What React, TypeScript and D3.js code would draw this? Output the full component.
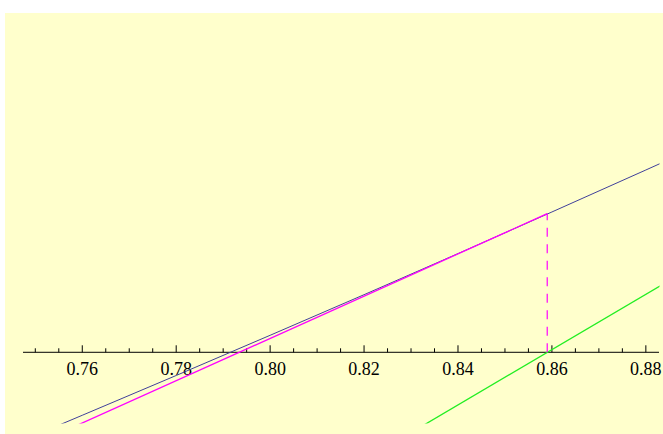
import React from "react";
import * as d3 from "d3";

// curve (x in data units, y in the same units)
const curveX = [0.755, 0.76, 0.78, 0.8, 0.82, 0.84, 0.86, 0.88, 0.885];
const curveY = [-0.01552, -0.01341, -0.00494, 0.00362, 0.01226, 0.02101, 0.02987, 0.03881, 0.04106];

// tangent line touching the curve at x0
const tangentX = [0.755, 0.859];
const tangentY = [-0.0173, 0.0295];

// green line through (x0, 0)
const greenX = [0.83, 0.885];
const greenY = [-0.0171, 0.0153];

const x0 = 0.859;

const majorTicks = [0.76, 0.78, 0.8, 0.82, 0.84, 0.86, 0.88];
const tickLabels = ["0.76", "0.78", "0.80", "0.82", "0.84", "0.86", "0.88"];
const minorTicks = [0.75, 0.755, 0.765, 0.77, 0.775, 0.785, 0.79, 0.795, 0.805, 0.81, 0.815, 0.825, 0.83, 0.835, 0.845, 0.85, 0.855, 0.865, 0.87, 0.875];

const W = 663;
const H = 434;

export default function App() {
  const x = d3.scaleLinear().domain([0.74738, 0.8828]).range([23, 659]);
  const y = d3.scaleLinear().domain([-0.01516, 0.07223]).range([423.5, 13]);

  const line = d3
    .line<number>()
    .x((d) => x(d))
    .y((d, i) => 0);

  const path = (xs: number[], ys: number[]) =>
    d3
      .line<number>()
      .x((d) => x(d))
      .y((d, i) => y(ys[i]))(xs) || "";

  const axisY = y(0);

  return (
    <svg
      width={W}
      height={H}
      style={{ position: "absolute", left: 0, top: 0 }}
      fontFamily="'Liberation Serif', 'Times New Roman', serif"
    >
      <defs>
        <clipPath id="plot">
          <rect x={23} y={13} width={636.5} height={410.5} />
        </clipPath>
      </defs>
      <rect x={5} y={13} width={658} height={421} fill="#FFFFCC" />

      {/* axis */}
      <line x1={23} x2={659} y1={axisY} y2={axisY} stroke="#000" strokeWidth={1} />
      {majorTicks.map((t, i) => (
        <g key={"M" + i}>
          <line x1={x(t)} x2={x(t)} y1={axisY} y2={axisY - 7} stroke="#000" strokeWidth={1} />
          <text x={x(t)} y={axisY + 23} textAnchor="middle" fontSize={18} fill="#000">
            {tickLabels[i]}
          </text>
        </g>
      ))}
      {minorTicks.map((t, i) => (
        <line key={"m" + i} x1={x(t)} x2={x(t)} y1={axisY} y2={axisY - 4} stroke="#000" strokeWidth={1} />
      ))}

      <g clipPath="url(#plot)" fill="none">
        <path d={path(curveX, curveY)} stroke="#40409a" strokeWidth={1} />
        <path d={path(tangentX, tangentY)} stroke="#FF00FF" strokeWidth={1.3} />
        <path d={path(greenX, greenY)} stroke="#22EE22" strokeWidth={1.3} />
        <line
          x1={x(x0)}
          x2={x(x0)}
          y1={y(0)}
          y2={y(tangentY[1])}
          stroke="#FF00FF"
          strokeWidth={1.2}
          strokeDasharray="9,7.5"
        />
      </g>
    </svg>
  );
}
